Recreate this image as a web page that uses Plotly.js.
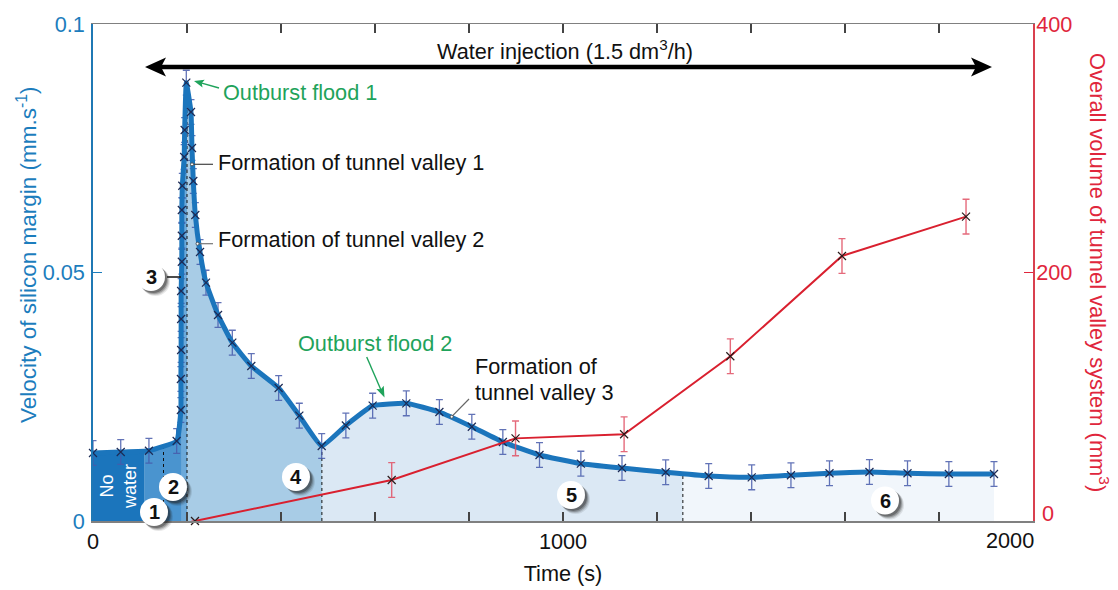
<!DOCTYPE html>
<html><head><meta charset="utf-8">
<script src="https://cdn.plot.ly/plotly-3.0.1.min.js"></script>
<style>html,body{margin:0;padding:0;background:#fff}#c{width:1118px;height:590px}</style>
</head><body><div id="c"></div>
<script>
const velocityTime=[0,59,119,178,187,187,187.5,187.5,187.5,189,189,189,190,194,195,198.5,208.5,210.6,213.4,217.7,227.7,240.4,266,296.4,336.8,395,439,486.6,538,595,666.6,737,806,872,950,1038,1125.5,1218.5,1310,1401.5,1485,1567,1652,1733,1821,1917];
const velocity=[0.01368,0.01388,0.01414,0.0161,0.02233,0.02857,0.0344,0.04064,0.04628,0.05217,0.0574,0.06258,0.06746,0.07324,0.07867,0.08819,0.0823,0.07505,0.06841,0.06157,0.05412,0.04795,0.04145,0.03588,0.03119,0.02676,0.02119,0.01509,0.01922,0.0232,0.02368,0.02193,0.01897,0.0159,0.01328,0.01153,0.01066,0.0098,0.00905,0.00879,0.0092,0.0096,0.00986,0.0096,0.00946,0.00946];
const velocityError=0.0025;
const volumeTime=[217,635.5,899,1130,1356,1593.6,1857.5];
const volume=[0,33,66.5,69.8,132.6,213.3,245];
const volumeError=[0,14,14,14,14,14,14];
const regionEdges=[0,110,189,200,487,1255,1917];
const regionColors=['#1b75bc','#4a94cf','#6ba9da','#a8cce6','#dbe8f4','#f1f6fb'];
const dashTimes=[150,200,487,1255];
const xMajorTicks=[0,1000];
const xMinorTicks=[200,400,600,800,1200,1400,1600,1800];

const BLUE='#1c7dbd',RED='#e0263c',GREEN='#1fa35b',FONT='"Liberation Sans",Arial,sans-serif';
const FS=21.7;
const L=93,R=1033,T=24,B=521;
const px=x=>(x-L)/(R-L), py=y=>(B-y)/(B-T);

function interp(t){
  for(let i=velocityTime.length-1;i>0;i--){
    const a=velocityTime[i-1],b=velocityTime[i];
    if(t>=a&&t<=b&&b>a) return velocity[i-1]+(velocity[i]-velocity[i-1])*(t-a)/(b-a);
  }
  return velocity[velocity.length-1];
}
const traces=[];
regionColors.forEach((c,i)=>{
  const s=regionEdges[i],e=regionEdges[i+1];
  const xs=[s],ys=[interp(s)];
  velocityTime.forEach((t,k)=>{if(t>s&&t<e){xs.push(t);ys.push(velocity[k]);}});
  xs.push(e);ys.push(interp(e));
  traces.push({x:xs,y:ys,type:'scatter',mode:'lines',line:{width:0},fill:'tozeroy',fillcolor:c,hoverinfo:'skip',showlegend:false});
});
dashTimes.forEach(t=>traces.push({x:[t,t],y:[0,interp(t)],type:'scatter',mode:'lines',line:{color:'#111',width:1,dash:'3px,3px'},hoverinfo:'skip',showlegend:false}));
traces.push({x:velocityTime,y:velocity,name:'Velocity',type:'scatter',mode:'lines+markers',
  line:{color:'#1b75bc',width:5,shape:'spline',smoothing:0.35},
  marker:{symbol:'x-thin',size:8,line:{width:1.2,color:'#1c2a55'},color:'#1c2a55'},
  error_y:{type:'constant',value:velocityError,color:'rgba(70,90,170,0.85)',thickness:1.3,width:3.5},showlegend:false,cliponaxis:false});
traces.push({x:volumeTime,y:volume,name:'Volume',yaxis:'y2',type:'scatter',mode:'lines+markers',
  line:{color:'#d9202f',width:2},
  marker:{symbol:'x-thin',size:8,line:{width:1.2,color:'#2a1a1a'},color:'#2a1a1a'},
  error_y:{type:'data',array:volumeError,color:'rgba(225,80,100,0.85)',thickness:1.4,width:3.5},showlegend:false,cliponaxis:false});

const txt=(text,x,y,color,size,extra)=>Object.assign({text,x:px(x),y:py(y),xref:'paper',yref:'paper',showarrow:false,
  font:{family:FONT,color,size},xanchor:'left',yanchor:'middle'},extra||{});
const line=(x0,y0,x1,y1,color,w)=>({type:'line',xref:'paper',yref:'paper',x0:px(x0),y0:py(y0),x1:px(x1),y1:py(y1),line:{color,width:w},layer:'above'});
const dot=(x,y)=>({type:'circle',xref:'paper',yref:'paper',x0:px(x-1.5),x1:px(x+1.5),y0:py(y+1.5),y1:py(y-1.5),fillcolor:'#fff',line:{color:'#444',width:0.8},layer:'above'});
// barbed arrowhead pointing at (x1,y1), coming from (x0,y0)
function head(x0,y0,x1,y1,len,half,notch,color){
  const d=Math.hypot(x1-x0,y1-y0),ux=(x1-x0)/d,uy=(y1-y0)/d,nx=-uy,ny=ux;
  const pts=[[x1,y1],[x1-ux*len+nx*half,y1-uy*len+ny*half],[x1-ux*(len-notch),y1-uy*(len-notch)],[x1-ux*len-nx*half,y1-uy*len-ny*half]];
  return {type:'path',xref:'paper',yref:'paper',layer:'above',fillcolor:color,line:{width:0},
    path:'M'+pts.map(p=>px(p[0])+','+py(p[1])).join('L')+'Z'};
}

const shapes=[line(167,277,181,277,'#111',1.5),
  line(192,164.3,213,164.3,'#444',1.2),dot(192,164.3),
  line(197.5,243.7,213,243.7,'#777',1.2),dot(197.5,243.7),
  line(451.7,416.7,469,399,'#666',1.2),dot(451.7,416.7),
  line(155,67,982,67,'#000',4.5),
  head(992,67,145,67,21,9.5,5,'#000'),
  head(145,67,992,67,21,9.5,5,'#000'),
  line(219,88,200,82.7,GREEN,1.4),
  head(219,88,194,81,10,4,2,GREEN),
  line(366.7,357,381,390,GREEN,1.4),
  head(366.7,357,384.5,397.5,11,4,2,GREEN)];
const badges=[['1',154,512],['2',173,487],['3',151,277],['4',296,477],['5',571,495],['6',885,500.5]];
const annotations=[
  txt('Water injection (1.5 dm<sup>3</sup>/h)',565,50,'#111',FS,{xanchor:'center'}),
  txt('Outburst flood 1',221,92,GREEN,FS),
  txt('Formation of tunnel valley 1',216,163,'#111',FS),
  txt('Formation of tunnel valley 2',216,240,'#111',FS),
  txt('Outburst flood 2',296,343,GREEN,FS),
  txt('Formation of',473,366,'#111',FS),
  txt('tunnel valley 3',473,392,'#111',FS),
  txt('No<br>water',118,487,'#fff',18,{xanchor:'center',textangle:-90,align:'center'}),
  txt('Velocity of silicon margin (mm.s<sup>-1</sup>)',27,255,BLUE,22.5,{xanchor:'center',textangle:-90}),
  txt('Overall volume of tunnel valley system (mm<sup>3</sup>)',1099,272,RED,FS+0.2,{xanchor:'center',textangle:90}),
  txt('2000',1010,540,'#111',FS,{xanchor:'center'}),
  txt('0',1048,513,RED,FS,{xanchor:'center'})
];
badges.forEach(([n,x,y])=>{
  const r=14;
  [[6,4,0.10],[5,3.5,0.16],[4,3,0.25],[3,2.5,0.35]].forEach(([d,o,a])=>{
    shapes.push({type:'circle',xref:'paper',yref:'paper',x0:px(x-r+o),x1:px(x+r+d-1),y0:py(y+r+d-1),y1:py(y-r+o),fillcolor:`rgba(30,30,30,${a})`,line:{width:0},layer:'above'});
  });
  shapes.push({type:'circle',xref:'paper',yref:'paper',x0:px(x-r),x1:px(x+r),y0:py(y+r),y1:py(y-r),fillcolor:'#fff',line:{width:0},layer:'above'});
  annotations.push(txt(n,x,y,'#111',20,{xanchor:'center',font:{family:FONT,color:'#111',size:20,weight:'bold'}}));
});

const layout={width:1118,height:590,margin:{l:L,r:1118-R,t:T,b:590-B,pad:0},paper_bgcolor:'#fff',plot_bgcolor:'#fff',showlegend:false,
  font:{family:FONT,size:FS,color:'#111'},
  xaxis:{range:[0,2000],tickmode:'array',tickvals:xMajorTicks,ticktext:xMajorTicks.map(String),ticks:'inside',ticklen:9,tickwidth:1.2,tickcolor:'#444',
    minor:{tickmode:'array',tickvals:xMinorTicks,ticks:'inside',ticklen:9,tickwidth:1.2,tickcolor:'#444',showgrid:false},
    showline:true,linecolor:'#808080',linewidth:1.5,mirror:'ticks',showgrid:false,zeroline:false,
    title:{text:'Time (s)',font:{size:FS,color:'#111'},standoff:13},tickfont:{size:FS,color:'#111'}},
  yaxis:{range:[0,0.1],tickmode:'array',tickvals:[0,0.05,0.1],ticktext:['0','0.05','0.1'],ticks:'inside',ticklen:9,tickwidth:1.5,tickcolor:BLUE,
    showline:true,linecolor:'#1f78b4',linewidth:1.8,showgrid:false,zeroline:false,tickfont:{size:FS,color:BLUE},ticklabelstandoff:2},
  yaxis2:{range:[0,400],overlaying:'y',side:'right',tickmode:'array',tickvals:[200,400],ticktext:['200','400'],ticks:'inside',ticklen:9,tickwidth:1.5,tickcolor:RED,
    showline:true,linecolor:'#d9404f',linewidth:1.8,showgrid:false,zeroline:false,tickfont:{size:FS,color:RED},ticklabelstandoff:-3}},
layoutExtra={shapes,annotations};
Plotly.newPlot('c',traces,Object.assign(layout,layoutExtra),{displayModeBar:false,staticPlot:true});
</script></body></html>
